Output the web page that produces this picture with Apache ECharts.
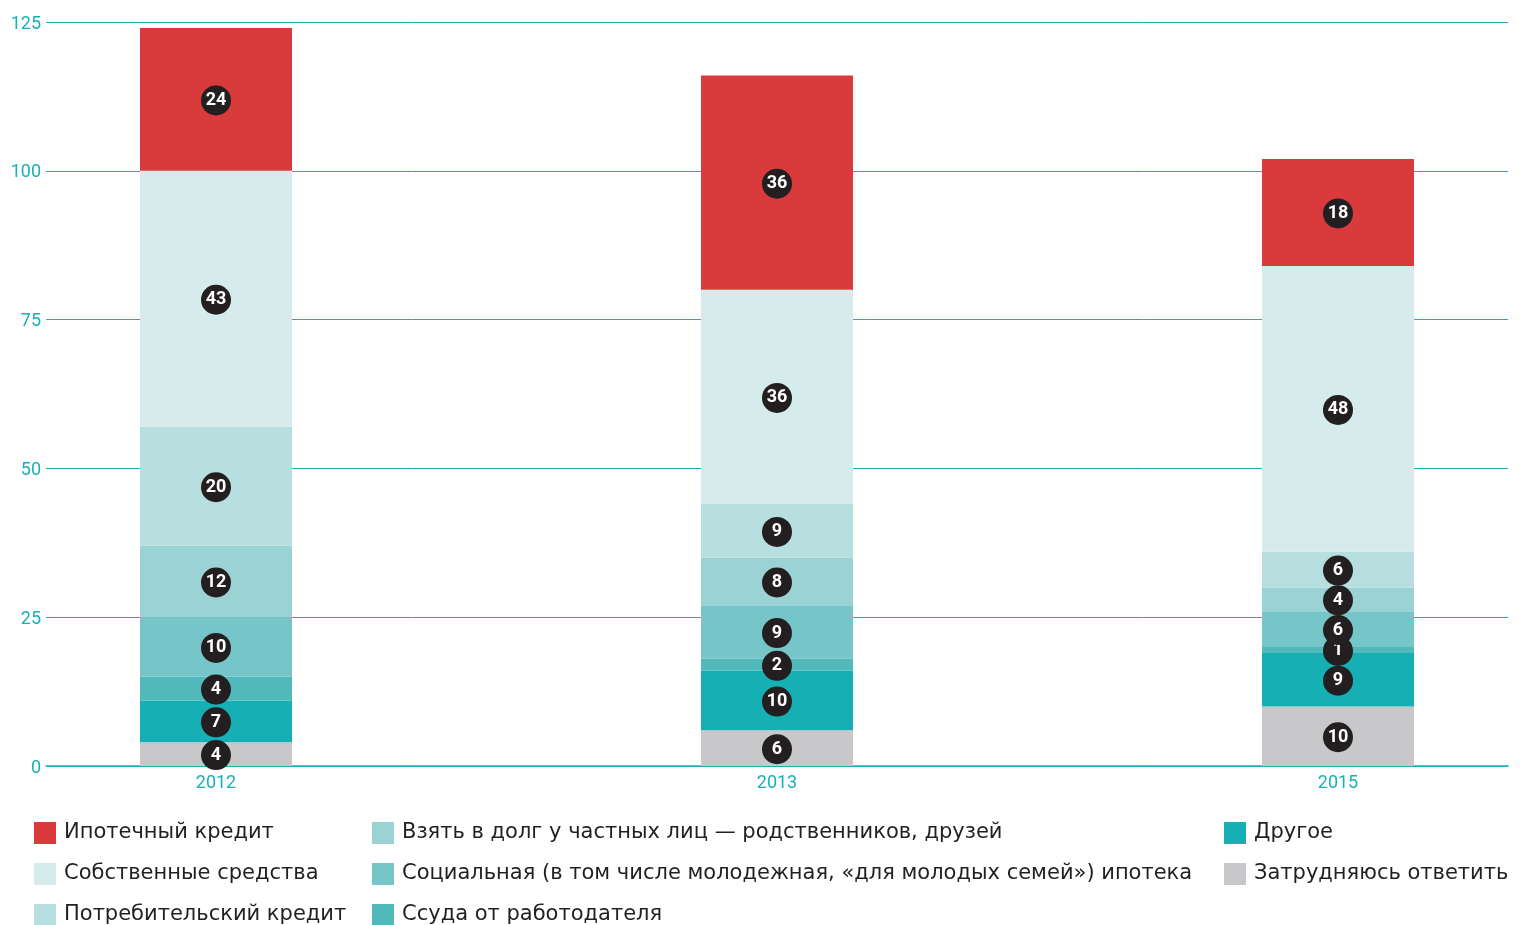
<!DOCTYPE html>
<html><head><meta charset="utf-8">
<script src="https://cdn.jsdelivr.net/npm/echarts@6/dist/echarts.min.js"></script>
<style>html,body{margin:0;padding:0;background:#fff}#c{width:1531px;height:925px}</style>
</head><body><div id="c"></div>
<script>
const categories = ['2012', '2013', '2015'];
const yTicks = [0, 25, 50, 75, 100, 125];
const seriesNames = [
  'Затрудняюсь ответить',
  'Другое',
  'Ссуда от работодателя',
  'Социальная (в том числе молодежная, «для молодых семей») ипотека',
  'Взять в долг у частных лиц — родственников, друзей',
  'Потребительский кредит',
  'Собственные средства',
  'Ипотечный кредит'
];
const hard = [4, 6, 10];
const other = [7, 10, 9];
const employer = [4, 2, 1];
const socialMortgage = [10, 9, 6];
const borrow = [12, 8, 4];
const consumer = [20, 9, 6];
const own = [43, 36, 48];
const mortgage = [24, 36, 18];
const colors = ['#c8c8ca', '#16b0b4', '#52b9bb', '#76c5c8', '#9bd3d4', '#b7dfdf', '#d6ecec', '#d93a3c'];
const seriesValues = [hard, other, employer, socialMortgage, borrow, consumer, own, mortgage];

const teal = '#1ab1b5';
const font = 'Roboto';

const series = seriesNames.map((name, si) => ({
  name: name,
  type: 'bar',
  stack: 'total',
  barWidth: 152,
  clip: false,
  xAxisIndex: 1,
  yAxisIndex: 1,
  itemStyle: { color: colors[si] },
  label: {
    show: true,
    position: 'inside',
    offset: [0, 1],
    color: '#fff',
    fontFamily: font,
    fontWeight: 'bold',
    fontSize: 18,
    backgroundColor: '#231f20',
    borderRadius: 15,
    width: 30,
    height: 30,
    lineHeight: 31,
    align: 'center',
    verticalAlign: 'middle'
  },
  emphasis: { disabled: true },
  data: seriesValues[si]
}));

const legendText = { fontFamily: 'DejaVu Sans', fontSize: 21, color: '#231f20', padding: [0, 0, 0, 3] };
function legend(left, names) {
  return {
    orient: 'vertical', left: left, top: 817, height: 140,
    itemWidth: 22, itemHeight: 22, itemGap: 19,
    icon: 'rect', textStyle: legendText,
    selectedMode: false,
    data: names
  };
}

const chart = echarts.init(document.getElementById('c'));
chart.setOption({
  animation: false,
  grid: [
    { left: 46, right: 23, top: 22, bottom: 159 },
    { left: 216, right: 193, top: 22, bottom: 159 }
  ],
  legend: [
    legend(29, [seriesNames[7], seriesNames[6], seriesNames[5]]),
    legend(367, [seriesNames[4], seriesNames[3], seriesNames[2]]),
    legend(1219, [seriesNames[1], seriesNames[0]])
  ],
  xAxis: [
    {
      gridIndex: 0, type: 'value', min: 0, max: 1,
      splitLine: { show: false },
      axisLine: { show: true, onZero: false, lineStyle: { color: teal, width: 1.5 } },
      axisTick: { show: false }, axisLabel: { show: false }
    },
    {
      gridIndex: 1, type: 'category', data: categories, boundaryGap: false,
      axisLine: { show: false }, axisTick: { show: false },
      axisLabel: { color: teal, fontFamily: font, fontSize: 18, margin: 8 }
    }
  ],
  yAxis: [
    {
      gridIndex: 0, type: 'value', min: 0, max: 125, interval: 25,
      axisLine: { show: false }, axisTick: { show: false },
      splitLine: { lineStyle: { color: teal, width: 1 } },
      axisLabel: {
        color: teal, fontFamily: font, fontSize: 18, margin: 5,
        formatter: v => yTicks.includes(v) ? '{t|' + v + '}' : '',
        rich: { t: { color: teal, fontFamily: font, fontSize: 18, padding: [4, 0, 0, 0] } }
      }
    },
    {
      gridIndex: 1, type: 'value', min: 0, max: 125, interval: 25,
      show: false, splitLine: { show: false }
    }
  ],
  series: series
});
</script>
</body></html>
